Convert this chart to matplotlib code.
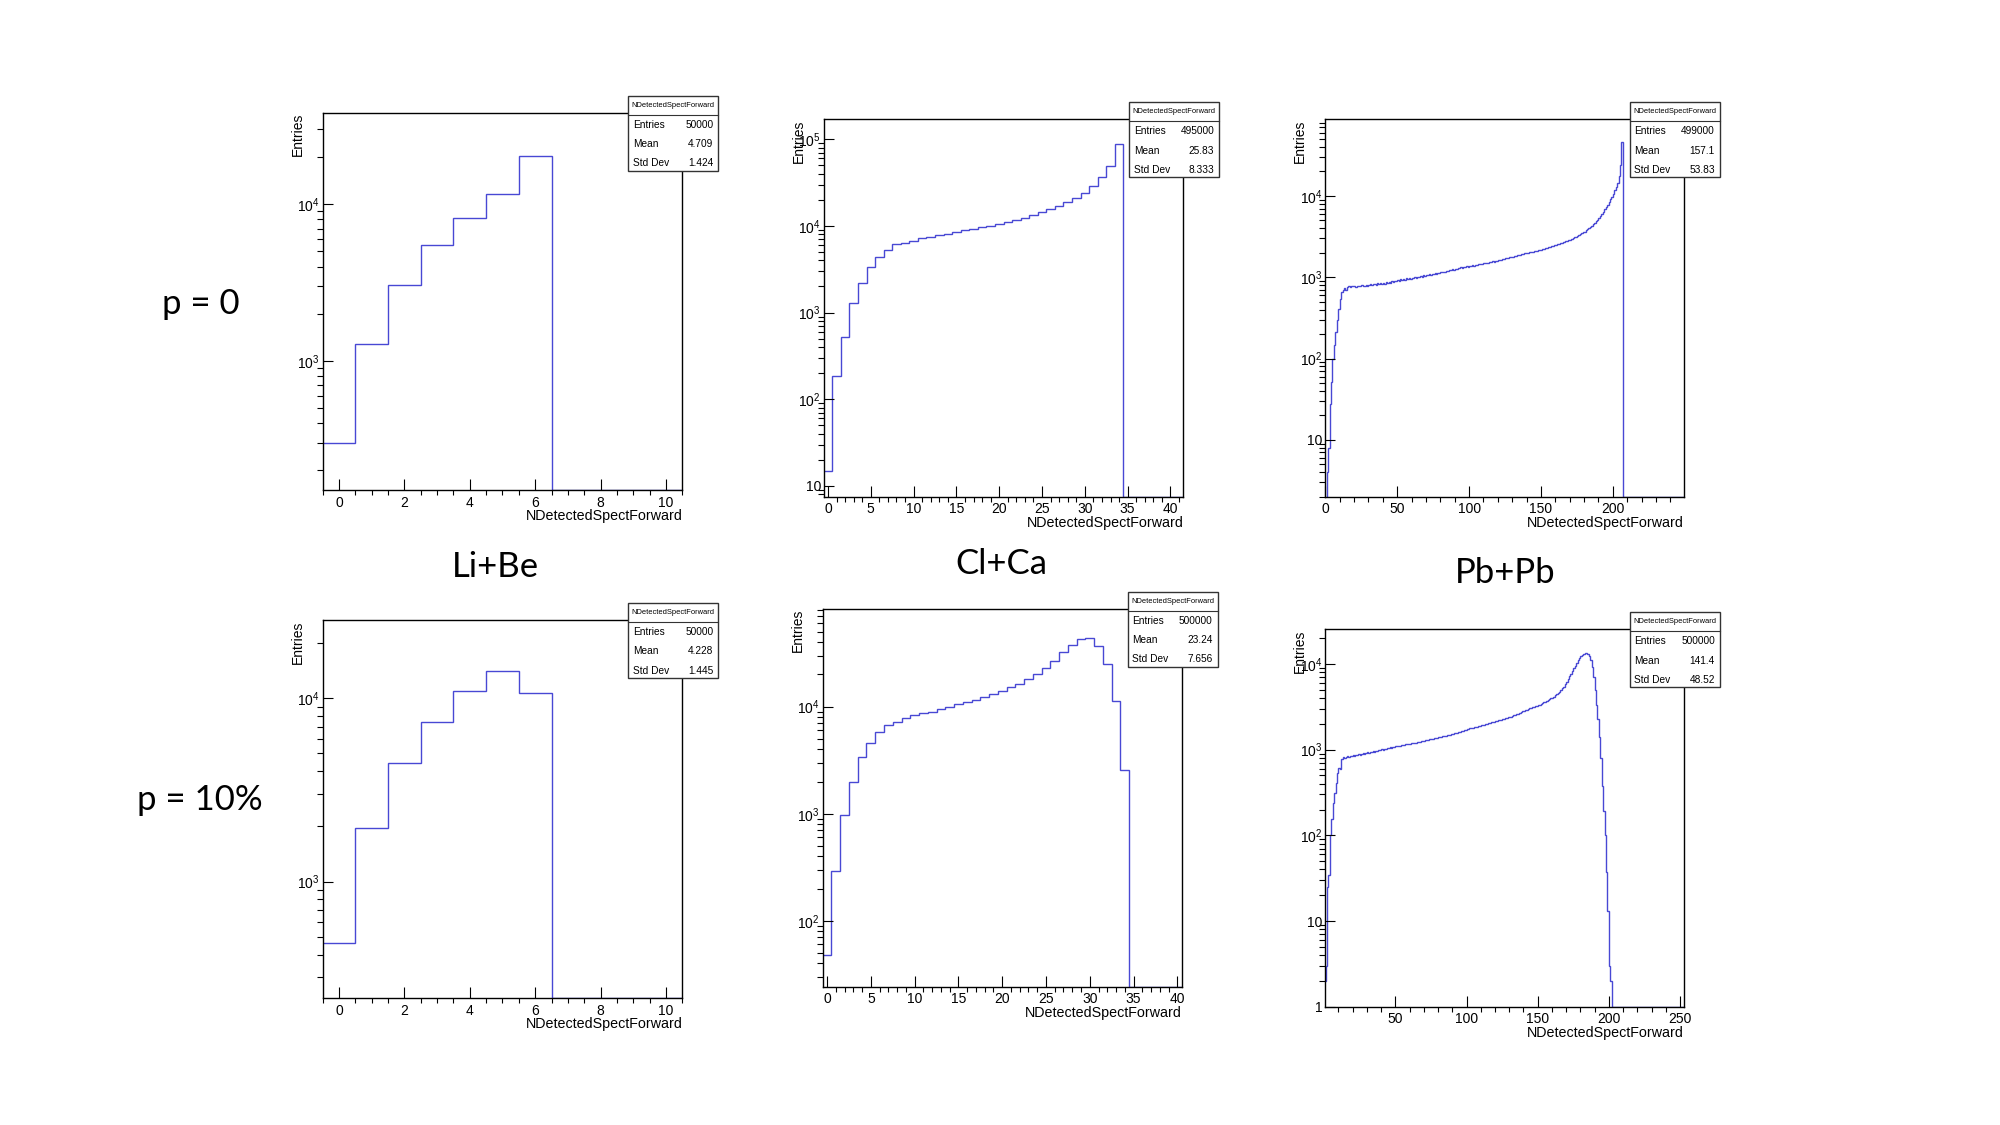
import numpy as np
import matplotlib
matplotlib.use('Agg')
import matplotlib.pyplot as plt
from matplotlib.ticker import MultipleLocator, LogLocator, FuncFormatter, NullFormatter
from matplotlib.patches import Rectangle
from matplotlib.lines import Line2D

plt.rcParams['font.family'] = ['Liberation Sans', 'DejaVu Sans']
plt.rcParams['mathtext.fontset'] = 'custom'
plt.rcParams['mathtext.rm'] = 'Liberation Sans'

# bin contents (bins of width 1)
libe_p0 = [298, 1277, 3040, 5530, 8150, 11590, 20200, 0, 0, 0, 0]
libe_p10 = [461, 1954, 4420, 7430, 10920, 14040, 10650, 0, 0, 0, 0]

clca_p0 = [15, 186, 519, 1294, 2180, 3340, 4430, 5290, 6140, 6420,
           6770, 7210, 7540, 7880, 8160, 8530, 8990, 9320, 9660, 10000,
           10450, 11020, 11730, 12370, 13280, 14510, 15570, 17170, 18760, 21230,
           24260, 29200, 37100, 49700, 89100, 0, 0, 0, 0, 0,
           0, 0]
clca_p10 = [48, 291, 972, 1977, 3410, 4540, 5800, 6790, 7140, 7890,
            8360, 8660, 8920, 9510, 10000, 10510, 10970, 11460, 12400, 13040,
            14110, 15170, 16180, 17990, 20050, 22810, 26900, 32200, 37450, 42600,
            43500, 37150, 24900, 11300, 2540, 0, 0, 0, 0, 0,
            0]

pbpb_p0 = [1, 4, 8, 28, 52, 100, 146, 212, 297, 403,
           540, 666, 698, 730, 700, 760, 770, 755, 780, 770,
           776, 765, 790, 772, 785, 800, 778, 792, 810, 786,
           800, 822, 793, 815, 830, 806, 842, 818, 846, 832,
           850, 836, 872, 848, 880, 862, 896, 871, 905, 893,
           930, 907, 941, 926, 957, 934, 966, 951, 982, 960,
           990, 977, 1006, 992, 1021, 1003, 1036, 1019, 1052, 1041,
           1070, 1056, 1087, 1073, 1102, 1091, 1121, 1108, 1142, 1131,
           1160, 1152, 1177, 1168, 1201, 1189, 1222, 1214, 1251, 1238,
           1280, 1268, 1296, 1291, 1320, 1308, 1342, 1333, 1366, 1354,
           1380, 1376, 1402, 1393, 1421, 1414, 1446, 1438, 1472, 1463,
           1500, 1489, 1517, 1508, 1541, 1533, 1566, 1558, 1596, 1588,
           1620, 1632, 1648, 1667, 1689, 1702, 1724, 1742, 1763, 1781,
           1800, 1817, 1838, 1856, 1879, 1897, 1921, 1938, 1962, 1979,
           2000, 2016, 2034, 2052, 2069, 2087, 2104, 2126, 2143, 2162,
           2180, 2212, 2238, 2271, 2298, 2332, 2368, 2402, 2437, 2471,
           2500, 2537, 2569, 2612, 2648, 2691, 2728, 2772, 2818, 2861,
           2900, 2962, 3018, 3091, 3158, 3232, 3309, 3402, 3488, 3571,
           3650, 3768, 3902, 4028, 4161, 4300, 4488, 4692, 4898, 5131,
           5400, 5702, 6048, 6421, 6853, 7300, 7852, 8448, 9103, 9800,
           10600, 11800, 13000, 14500, 17500, 24000, 46000]

pbpb_p10 = [2, 3, 25, 34, 100, 154, 236, 308, 405, 530,
            617, 600, 776, 827, 800, 820, 845, 812, 850, 835,
            860, 842, 875, 858, 890, 866, 898, 905, 880, 918,
            930, 912, 945, 938, 962, 950, 975, 968, 995, 984,
            1010, 998, 1024, 1020, 1045, 1036, 1060, 1058, 1082, 1075,
            1090, 1096, 1112, 1108, 1125, 1130, 1142, 1149, 1160, 1165,
            1170, 1182, 1190, 1205, 1212, 1224, 1235, 1240, 1256, 1262,
            1270, 1285, 1292, 1308, 1316, 1330, 1342, 1351, 1368, 1377,
            1390, 1402, 1415, 1425, 1440, 1452, 1468, 1480, 1495, 1510,
            1530, 1548, 1565, 1584, 1605, 1624, 1645, 1668, 1690, 1715,
            1740, 1755, 1772, 1790, 1805, 1822, 1840, 1858, 1880, 1900,
            1920, 1942, 1960, 1985, 2005, 2030, 2052, 2078, 2105, 2128,
            2150, 2175, 2198, 2222, 2248, 2272, 2298, 2325, 2350, 2376,
            2400, 2435, 2472, 2510, 2552, 2595, 2640, 2690, 2740, 2795,
            2850, 2890, 2935, 2978, 3025, 3070, 3118, 3165, 3210, 3255,
            3300, 3360, 3425, 3490, 3560, 3630, 3710, 3790, 3870, 3960,
            4050, 4170, 4290, 4420, 4560, 4700, 4950, 5200, 5450, 5800,
            6200, 6700, 7200, 7700, 8300, 8900, 9600, 10300, 11000, 11700,
            12300, 12800, 13100, 13300, 13300, 13000, 12300, 11100, 9200, 7000,
            5000, 3300, 2250, 1400, 800, 380, 190, 100, 37, 13,
            3, 2]

stats_libe_p0 = ['50000', '4.709', '1.424']
stats_clca_p0 = ['495000', '25.83', '8.333']
stats_pbpb_p0 = ['499000', '157.1', '53.83']
stats_libe_p10 = ['50000', '4.228', '1.445']
stats_clca_p10 = ['500000', '23.24', '7.656']
stats_pbpb_p10 = ['500000', '141.4', '48.52']

systems = ['Li+Be', 'Cl+Ca', 'Pb+Pb']
rows = ['p = 0', 'p = 10%']

W, H = 2000, 1125
LINE = '#4848d4'
fig = plt.figure(figsize=(20, 11.25), dpi=100)


def fx(x):
    return x / W


def fy(y):
    return 1 - y / H


def log_label(v, pos):
    n = int(round(np.log10(v)))
    if n == 0:
        return '1'
    if n == 1:
        return '10'
    return r'$\mathregular{10^{%d}}$' % n


def draw_panel(box, vals, first_edge, nbins, xlim, ylim, xmaj, xmin, stats):
    left, top, right, bottom = box
    ax = fig.add_axes([fx(left), fy(bottom), fx(right - left), (bottom - top) / H])
    v = np.zeros(nbins)
    v[:len(vals)] = vals
    v = np.where(v > 0, v, ylim[0])
    edges = first_edge + np.arange(nbins + 1)
    ax.stairs(v, edges, baseline=None, color=LINE, lw=1.0)
    ax.set_yscale('log')
    ax.set_xlim(xlim)
    ax.set_ylim(ylim)
    ax.xaxis.set_major_locator(MultipleLocator(xmaj))
    ax.xaxis.set_minor_locator(MultipleLocator(xmin))
    ax.yaxis.set_major_locator(LogLocator(base=10, numticks=20))
    ax.yaxis.set_minor_locator(LogLocator(base=10, subs=np.arange(2, 10), numticks=20))
    ax.yaxis.set_major_formatter(FuncFormatter(log_label))
    ax.yaxis.set_minor_formatter(NullFormatter())
    ax.tick_params(direction='in', top=False, right=False, labelsize=10, colors='black')
    ax.tick_params(axis='x', which='major', length=8, width=0.8, pad=4)
    ax.tick_params(axis='x', which='minor', length=3.5, width=0.8)
    ax.tick_params(axis='y', which='major', length=7.5, width=0.8, pad=2)
    ax.tick_params(axis='y', which='minor', length=4, width=0.8)
    for s in ax.spines.values():
        s.set_linewidth(1.0)
    ax.text(-25 / (right - left), 1.0, 'Entries', rotation=90, ha='center', va='top',
            transform=ax.transAxes, fontsize=10)
    ax.text(1.0, -19 / (bottom - top), 'NDetectedSpectForward', ha='right', va='top',
            transform=ax.transAxes, fontsize=10.3)

    # stats box
    bx, by = right - 54, top - 17
    fig.add_artist(Rectangle((fx(bx), fy(by + 75)), 90 / W, 75 / H, transform=fig.transFigure,
                             fc='white', ec='#333333', lw=1.0, zorder=10))
    fig.add_artist(Line2D([fx(bx), fx(bx + 90)], [fy(by + 19), fy(by + 19)],
                          transform=fig.transFigure, color='#333333', lw=0.8, zorder=11))
    fig.text(fx(bx + 45), fy(by + 9.5), 'NDetectedSpectForward', ha='center', va='center',
             fontsize=5.4, zorder=12)
    for i, name in enumerate(['Entries', 'Mean', 'Std Dev']):
        yy = by + 29 + 19.2 * i
        fig.text(fx(bx + 4.5), fy(yy), name, ha='left', va='center', fontsize=7.3, zorder=12)
        fig.text(fx(bx + 85), fy(yy), stats[i], ha='right', va='center', fontsize=7.3, zorder=12)
    return ax


draw_panel((322.7, 112.7, 682.3, 490), libe_p0, -0.5, 11, (-0.5, 10.5), (150, 38400), 2, 0.5, stats_libe_p0)
draw_panel((823.7, 119.3, 1183.3, 496.7), clca_p0, -0.5, 42, (-0.5, 41.5), (7.5, 170000), 5, 1, stats_clca_p0)
draw_panel((1325.3, 119.3, 1684, 496.7), pbpb_p0, 0, 250, (0, 249.5), (2.0, 87700), 50, 10, stats_pbpb_p0)
draw_panel((322.7, 620.3, 682.3, 998.3), libe_p10, -0.5, 11, (-0.5, 10.5), (231, 26600), 2, 0.5, stats_libe_p10)
draw_panel((822.7, 609, 1181.7, 986.7), clca_p10, -0.5, 41, (-0.5, 40.5), (24.2, 81800), 5, 1, stats_clca_p10)
draw_panel((1325.3, 629.3, 1684, 1006.7), pbpb_p10, 0, 253, (0.8, 252.8), (1, 25400), 50, 10, stats_pbpb_p10)

# slide labels
big = dict(fontsize=25, family=['Lato', 'DejaVu Sans'], ha='center', va='baseline')
fig.text(fx(200.5), fy(314), rows[0], **big)
fig.text(fx(200), fy(810), rows[1], **big)
fig.text(fx(495), fy(576.7), systems[0], **big)
fig.text(fx(1001), fy(574), systems[1], **big)
fig.text(fx(1505), fy(583), systems[2], **big)

fig.savefig('out.png', dpi=100, facecolor='white')
